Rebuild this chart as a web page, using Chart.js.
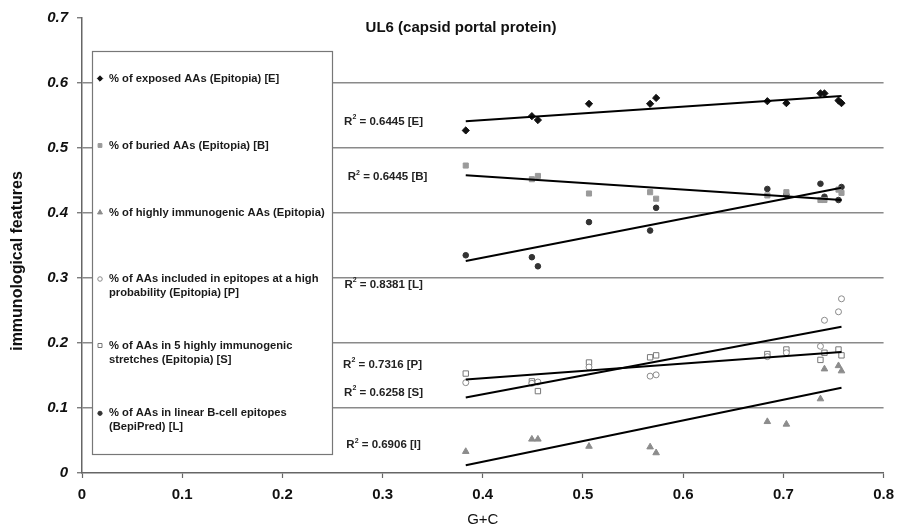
<!DOCTYPE html>
<html>
<head>
<meta charset="utf-8">
<script src="https://cdn.jsdelivr.net/npm/chart.js@4.4.1/dist/chart.umd.min.js"></script>
<style>
  html, body { margin: 0; padding: 0; background: #fff; }
  #wrap { width: 902px; height: 531px; }
</style>
</head>
<body>
<div id="wrap"><canvas id="chartUL6"></canvas></div>
<script>
// G+C content of each genome (x) and the immunological features measured for it
const gcContent  = [0.383, 0.449, 0.455, 0.506, 0.567, 0.573, 0.684, 0.703, 0.737, 0.741, 0.755, 0.758];
const exposedE   = [0.527, 0.549, 0.543, 0.568, 0.568, 0.577, 0.572, 0.569, 0.584, 0.584, 0.573, 0.569];
const buriedB    = [0.473, 0.452, 0.457, 0.430, 0.432, 0.422, 0.427, 0.432, 0.420, 0.420, 0.436, 0.431];
const immunoI    = [0.033, 0.052, 0.052, 0.041, 0.040, 0.031, 0.079, 0.075, 0.114, 0.160, 0.165, 0.157];
const highProbP  = [0.139, 0.138, 0.140, 0.163, 0.149, 0.151, 0.179, 0.185, 0.195, 0.235, 0.248, 0.268];
const stretchesS = [0.153, 0.141, 0.126, 0.170, 0.178, 0.181, 0.183, 0.190, 0.174, 0.185, 0.190, 0.181];
const bepiPredL  = [0.335, 0.332, 0.318, 0.386, 0.373, 0.408, 0.437, 0.428, 0.445, 0.425, 0.420, 0.440];

// linear trendlines (start / end value over the G+C range)
const trendX = [0.383, 0.758];
const trendE = [0.541, 0.580];
const trendB = [0.458, 0.420];
const trendI = [0.012, 0.131];
const trendP = [0.116, 0.225];
const trendS = [0.144, 0.186];
const trendL = [0.326, 0.439];

const r2Values = ['0.6445', '0.6445', '0.8381', '0.7316', '0.6258', '0.6906'];
const r2Tags   = ['E', 'B', 'L', 'P', 'S', 'I'];

const legendLabels = [
    ['% of exposed AAs (Epitopia) [E]'],
    ['% of buried AAs (Epitopia) [B]'],
    ['% of highly immunogenic AAs (Epitopia)'],
    ['% of AAs included in epitopes at a high', 'probability (Epitopia) [P]'],
    ['% of AAs in 5 highly immunogenic', 'stretches (Epitopia) [S]'],
    ['% of AAs in linear B-cell epitopes', '(BepiPred) [L]']
];

const xTicks = [0, 0.1, 0.2, 0.3, 0.4, 0.5, 0.6, 0.7, 0.8];
const yTicks = [0, 0.1, 0.2, 0.3, 0.4, 0.5, 0.6, 0.7];

const FONT = 'Arial, "Liberation Sans", sans-serif';

function pts(ys) { return gcContent.map((x, i) => ({ x: x, y: ys[i] })); }
function line(ys) { return trendX.map((x, i) => ({ x: x, y: ys[i] })); }

// marker styles per series, in legend order
const markers = [
    { style: 'rectRot',  fill: '#111',    stroke: '#111',    r: 3.6 },
    { style: 'rect',     fill: '#9a9a9a', stroke: '#9a9a9a', r: 3.6 },
    { style: 'triangle', fill: '#8c8c8c', stroke: '#8c8c8c', r: 3.8 },
    { style: 'circle',   fill: '#fff',    stroke: '#8a8a8a', r: 3 },
    { style: 'rect',     fill: '#fff',    stroke: '#777',    r: 3.8 },
    { style: 'circle',   fill: '#333',    stroke: '#333',    r: 2.8 }
];
const seriesData = [exposedE, buriedB, immunoI, highProbP, stretchesS, bepiPredL];
const trendData  = [trendE, trendB, trendI, trendP, trendS, trendL];

const datasets = [];
trendData.forEach(t => {
    datasets.push({
        type: 'line', data: line(t), borderColor: '#000', borderWidth: 2,
        pointRadius: 0, fill: false, tension: 0
    });
});
seriesData.forEach((s, i) => {
    const m = markers[i];
    datasets.push({
        type: 'scatter', data: pts(s), pointStyle: m.style, pointRadius: m.r,
        backgroundColor: m.fill, borderColor: m.stroke, borderWidth: 1
    });
});

// where each R² note sits, in axis units (order of r2Values)
const r2Anchors = [
    { x: 0.301, y: 0.541 }, { x: 0.305, y: 0.455 }, { x: 0.301, y: 0.290 },
    { x: 0.300, y: 0.167 }, { x: 0.301, y: 0.124 }, { x: 0.301, y: 0.0435 }
];
const legendRowY = [78.5, 145.5, 212.5, 279, 345.5, 413.3];

const annotations = {
    id: 'annotations',
    afterDraw(chart) {
        const ctx = chart.ctx;
        const xs = chart.scales.x, ys = chart.scales.y;
        ctx.save();
        ctx.textBaseline = 'middle';

        // chart title
        ctx.fillStyle = '#111';
        ctx.font = 'bold 15px ' + FONT;
        ctx.textAlign = 'center';
        ctx.fillText('UL6 (capsid portal protein)', 461, 28);

        // y axis title, rotated
        ctx.save();
        ctx.translate(18, 261);
        ctx.rotate(-Math.PI / 2);
        ctx.font = 'bold 16px ' + FONT;
        ctx.fillText('immunological features', 0, 0);
        ctx.restore();

        // R² notes
        r2Values.forEach((v, i) => {
            const a = r2Anchors[i];
            const cx = xs.getPixelForValue(a.x), cy = ys.getPixelForValue(a.y);
            const rest = ' = ' + v + ' [' + r2Tags[i] + ']';
            ctx.font = 'bold 11.5px ' + FONT;
            const wR = ctx.measureText('R').width;
            const wRest = ctx.measureText(rest).width;
            ctx.font = 'bold 7px ' + FONT;
            const w2 = ctx.measureText('2').width;
            const x0 = cx - (wR + w2 + wRest) / 2;
            ctx.textAlign = 'left';
            ctx.fillStyle = '#222';
            ctx.fillText('2', x0 + wR, cy - 4);
            ctx.font = 'bold 11.5px ' + FONT;
            ctx.fillText('R', x0, cy);
            ctx.fillText(rest, x0 + wR + w2, cy);
        });

        // legend box
        const bx = 92, by = 51, bw = 240, bh = 403;
        ctx.fillStyle = '#fff';
        ctx.fillRect(bx, by, bw, bh);
        ctx.strokeStyle = '#777';
        ctx.lineWidth = 1.2;
        ctx.strokeRect(bx + 0.5, by + 0.5, bw, bh);

        ctx.font = 'bold 11.2px ' + FONT;
        ctx.textAlign = 'left';
        legendLabels.forEach((lines, i) => {
            const m = markers[i];
            ctx.fillStyle = m.fill;
            ctx.strokeStyle = m.stroke;
            ctx.lineWidth = 1;
            Chart.helpers.drawPoint(ctx, { pointStyle: m.style, radius: m.r * 0.75, borderWidth: 1 }, 100, legendRowY[i]);
            ctx.fillStyle = '#1a1a1a';
            lines.forEach((t, k) => ctx.fillText(t, 109, legendRowY[i] + k * 14));
        });
        ctx.restore();
    }
};

new Chart(document.getElementById('chartUL6'), {
    data: { datasets: datasets },
    options: {
        responsive: true,
        maintainAspectRatio: false,
        animation: false,
        layout: { padding: { top: 18, right: 12, left: 0, bottom: 0 } },
        plugins: {
            legend: { display: false },
            tooltip: { enabled: false },
            title: { display: false }
        },
        scales: {
            x: {
                type: 'linear', min: 0, max: 0.8,
                afterBuildTicks: s => { s.ticks = xTicks.map(v => ({ value: v })); },
                afterFit: s => { s.height = 58; },
                grid: { display: true, drawOnChartArea: false, tickLength: 5, tickColor: '#666', tickWidth: 1.2 },
                border: { color: '#666', width: 1.5 },
                ticks: {
                    color: '#111', padding: 8,
                    font: { family: FONT, size: 15, weight: 'bold' },
                    callback: v => String(v)
                },
                title: {
                    display: true, text: 'G+C', color: '#111',
                    font: { family: FONT, size: 15 },
                    padding: { top: 0, bottom: 2 }
                }
            },
            y: {
                type: 'linear', min: 0, max: 0.7,
                afterBuildTicks: s => { s.ticks = yTicks.map(v => ({ value: v })); },
                afterFit: s => { s.width = 82; },
                grid: {
                    color: c => (c.tick && c.tick.value > 0 && c.tick.value < 0.7) ? '#8a8a8a' : 'rgba(0,0,0,0)',
                    lineWidth: 1.5, tickLength: 5, tickColor: '#666', tickWidth: 1.2
                },
                border: { color: '#666', width: 1.5 },
                ticks: {
                    color: '#111', padding: 9,
                    font: { family: FONT, size: 15, weight: 'bold', style: 'italic' },
                    callback: v => String(v)
                },
                title: { display: false }
            }
        }
    },
    plugins: [annotations]
});
</script>
</body>
</html>
